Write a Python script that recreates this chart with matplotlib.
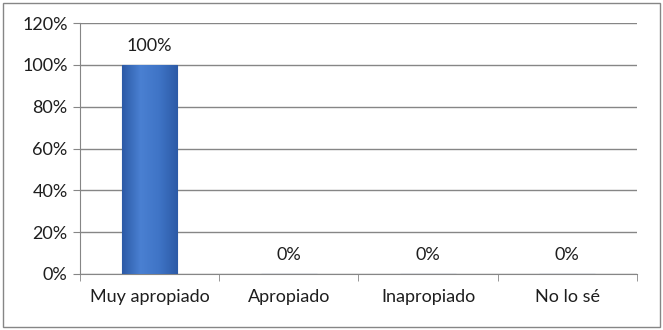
import numpy as np
import matplotlib.pyplot as plt
from matplotlib.patches import Rectangle
from matplotlib.colors import LinearSegmentedColormap

categories = ["Muy apropiado", "Apropiado", "Inapropiado", "No lo sé"]
values = [100, 0, 0, 0]
yticks = [0, 20, 40, 60, 80, 100, 120]

plt.rcParams["font.family"] = ["Lato", "DejaVu Sans"]
grey = "#868686"

fig = plt.figure(figsize=(6.63, 3.30), dpi=100)
ax = fig.add_axes([0.1207, 0.1697, 0.8400, 0.7603])

x = np.arange(len(categories))
bars = ax.bar(x, values, width=0.4, color="#3b6fc2", edgecolor="#2f5a9e", linewidth=0.8, zorder=3)

# horizontal shading across the bar, like the original bevel
cmap = LinearSegmentedColormap.from_list("bev", ["#2c5aa6", "#4a80d2", "#3f74c6", "#2c5aa6"])
grad = np.linspace(0, 1, 256).reshape(1, -1)
for b in bars:
    if b.get_height() <= 0:
        continue
    im = ax.imshow(grad, cmap=cmap, aspect="auto", zorder=3.5,
                   extent=[b.get_x(), b.get_x() + b.get_width(), 0, b.get_height()])
    im.set_clip_path(b)

for xi, v in zip(x, values):
    ax.annotate(f"{v}%", (xi, v), xytext=(0, 8), textcoords="offset points",
                ha="center", va="bottom", fontsize=13, color="#1e1e1e")

ax.set_xlim(-0.5, len(categories) - 0.5)
ax.set_ylim(0, 120)
ax.set_yticks(yticks)
ax.set_yticklabels([f"{t}%" for t in yticks], fontsize=13, color="#1e1e1e")
ax.yaxis.grid(True, color=grey, linewidth=1, zorder=0)
ax.set_axisbelow(True)

ax.set_xticks(x)
ax.set_xticklabels(categories, fontsize=13, color="#1e1e1e")
ax.tick_params(axis="x", length=0, pad=11)
ax.set_xticks(np.arange(len(categories) + 1) - 0.5, minor=True)
ax.tick_params(axis="x", which="minor", length=5, color=grey)
ax.tick_params(axis="y", length=5, color=grey, pad=4)

for side in ["top", "right"]:
    ax.spines[side].set_visible(False)
for side in ["left", "bottom"]:
    ax.spines[side].set_color(grey)

fig.patches.append(Rectangle((0.005, 0.01), 0.99, 0.98, transform=fig.transFigure,
                             fill=False, edgecolor=grey, linewidth=1))

fig.savefig("out.png", dpi=100)
